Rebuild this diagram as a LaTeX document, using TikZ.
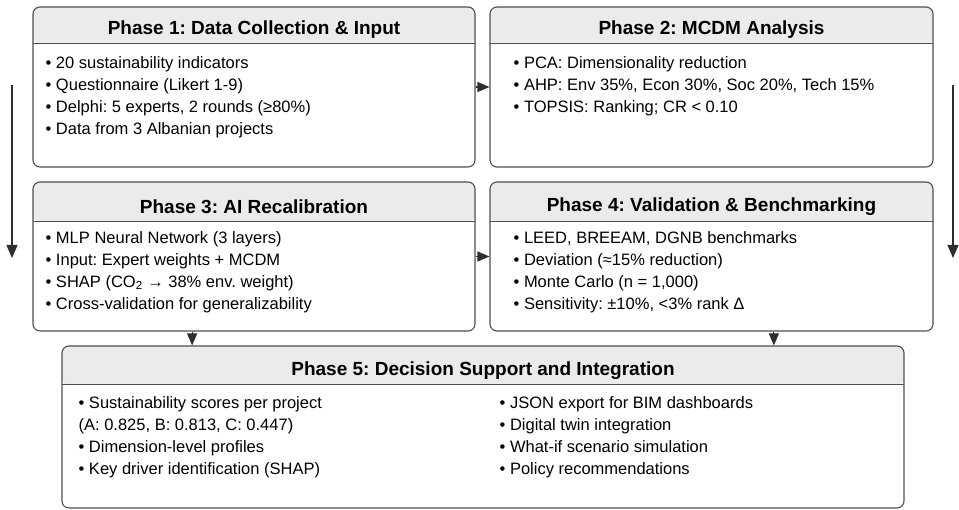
\documentclass[tikz,border=0pt]{standalone}
\usepackage{fontspec}
\setmainfont{Liberation Sans}
\usetikzlibrary{arrows.meta,calc}
\frenchspacing

\definecolor{edgegray}{HTML}{4F4F4F}
\definecolor{headgray}{HTML}{EBEBEB}
\definecolor{arrowgray}{HTML}{2E2E2E}

\tikzset{
  phase/.style args={#1/#2/#3}{draw=edgegray, line width=1.1pt, rounded corners=7pt,
    fill=white, minimum width=#1, minimum height=#2, inner sep=0pt,
    path picture={
      \fill[headgray] (path picture bounding box.north west)
        rectangle ([yshift=-#3]path picture bounding box.north east);
      \draw[edgegray,line width=1pt] ([yshift=-#3]path picture bounding box.north west)
        -- ([yshift=-#3]path picture bounding box.north east);
    }},
  headtxt/.style={font=\fontsize{19}{22}\selectfont\bfseries, inner sep=0pt},
  bodytxt/.style={font=\fontsize{16.5}{22}\selectfont, align=left, anchor=north west, inner sep=0pt},
  flow/.style={draw=arrowgray, line width=1.1pt, -{Triangle[width=11pt,length=13pt]}},
  short/.style={draw=arrowgray, line width=1.1pt, -{Triangle[width=10pt,length=12pt]}}
}

\begin{document}
\begin{tikzpicture}[x=1pt,y=-1pt]
\useasboundingbox (0,0) rectangle (959,510);

% phase boxes
\node[phase=442pt/160pt/37pt] (p1) at (254,87) {};
\node[phase=443pt/160pt/37pt] (p2) at (711.5,87) {};
\node[phase=442pt/149pt/40pt] (p3) at (254,256.5) {};
\node[phase=443pt/149pt/40pt] (p4) at (711.5,256.5) {};
\node[phase=842pt/162pt/39pt] (p5) at (483,427) {};

% titles
\node[headtxt] (t1) at ([yshift=-23.5pt]p1.north) {Phase 1: Data Collection \& Input};
\node[headtxt] (t2) at ([yshift=-23.5pt]p2.north) {Phase 2: MCDM Analysis};
\node[headtxt] (t3) at ([yshift=-25pt]p3.north) {Phase 3: AI Recalibration};
\node[headtxt] (t4) at ([yshift=-25pt]p4.north) {Phase 4: Validation \& Benchmarking};
\node[headtxt] (t5) at ([yshift=-25.5pt]p5.north) {Phase 5: Decision Support and Integration};

% contents
\node[bodytxt] (b1) at ([xshift=13pt,yshift=-49.5pt]p1.north west)
  {• 20 sustainability indicators\\ • Questionnaire (Likert 1-9)\\
   • Delphi: 5 experts, 2 rounds (≥80\%)\\ • Data from 3 Albanian projects};
\node[bodytxt] (b2) at ([xshift=24pt,yshift=-49.5pt]p2.north west)
  {• PCA: Dimensionality reduction\\ • AHP: Env 35\%, Econ 30\%, Soc 20\%, Tech 15\%\\
   • TOPSIS: Ranking; CR < 0.10};
\node[bodytxt] (b3) at ([xshift=13pt,yshift=-49.5pt]p3.north west)
  {• MLP Neural Network (3 layers)\\ • Input: Expert weights + MCDM\\
   • SHAP (CO\textsubscript{2} → 38\% env. weight)\\ • Cross-validation for generalizability};
\node[bodytxt] (b4) at ([xshift=24pt,yshift=-49.5pt]p4.north west)
  {• LEED, BREEAM, DGNB benchmarks\\ • Deviation (≈15\% reduction)\\
   • Monte Carlo (n = 1,000)\\ • Sensitivity: ±10\%, <3\% rank Δ};
\node[bodytxt] (b5) at ([xshift=17pt,yshift=-50.5pt]p5.north west)
  {• Sustainability scores per project\\ (A: 0.825, B: 0.813, C: 0.447)\\
   • Dimension-level profiles\\ • Key driver identification (SHAP)};
\node[bodytxt] (b6) at ([xshift=438pt,yshift=-50.5pt]p5.north west)
  {• JSON export for BIM dashboards\\ • Digital twin integration\\
   • What-if scenario simulation\\ • Policy recommendations};

% connectors
\draw[short] (p1.east) -- (p2.west);
\draw[short] (p3.east) -- (p4.west);
\coordinate (d1) at ($(p5.north west)!0.155!(p5.north east)$);
\coordinate (d2) at ($(p5.north west)!0.845!(p5.north east)$);
\draw[short] (p3.south -| d1) -- (d1);
\draw[short] (p4.south -| d2) -- (d2);
\coordinate (l1) at (12,85);
\coordinate (l2) at (12,258);
\coordinate (r1) at (953,85);
\coordinate (r2) at (953,258);
\draw[flow] (l1) -- (l2);
\draw[flow] (r1) -- (r2);
\end{tikzpicture}
\end{document}
